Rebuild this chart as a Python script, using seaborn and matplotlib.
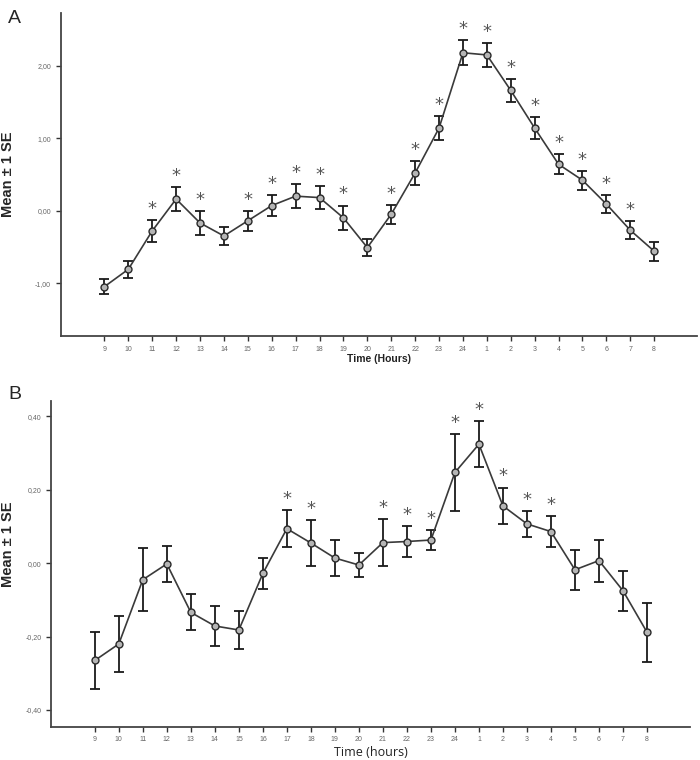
import numpy as np
import pandas as pd
import seaborn as sns
import matplotlib
matplotlib.use("Agg")
import matplotlib.pyplot as plt

# hours of the day, 9 am through 8 am next day
hours = [9, 10, 11, 12, 13, 14, 15, 16, 17, 18, 19, 20, 21, 22, 23, 24,
         1, 2, 3, 4, 5, 6, 7, 8]

# panel A: mean and standard error
mean_a = [-1.05, -0.81, -0.28, 0.16, -0.17, -0.35, -0.14, 0.07, 0.20, 0.18,
          -0.10, -0.51, -0.05, 0.52, 1.14, 2.18, 2.15, 1.66, 1.14, 0.64,
          0.42, 0.09, -0.27, -0.56]
se_a = [0.10, 0.12, 0.15, 0.16, 0.17, 0.12, 0.14, 0.14, 0.17, 0.16,
        0.17, 0.12, 0.13, 0.17, 0.17, 0.17, 0.17, 0.16, 0.15, 0.14,
        0.13, 0.12, 0.12, 0.13]
sig_a = [0, 0, 1, 1, 1, 0, 1, 1, 1, 1, 1, 0, 1, 1, 1, 1, 1, 1, 1, 1, 1, 1, 1, 0]

# panel B: mean and standard error
mean_b = [-0.265, -0.220, -0.045, -0.002, -0.134, -0.171, -0.182, -0.028,
          0.094, 0.055, 0.014, -0.005, 0.056, 0.059, 0.063, 0.247, 0.324,
          0.156, 0.107, 0.086, -0.018, 0.007, -0.075, -0.188]
se_b = [0.078, 0.076, 0.086, 0.048, 0.049, 0.054, 0.052, 0.041, 0.051,
        0.062, 0.050, 0.033, 0.064, 0.042, 0.026, 0.105, 0.062, 0.050,
        0.036, 0.042, 0.055, 0.057, 0.054, 0.080]
sig_b = [0, 0, 0, 0, 0, 0, 0, 0, 1, 1, 0, 0, 1, 1, 1, 1, 1, 1, 1, 1, 0, 0, 0, 0]

sns.set_style("ticks")
plt.rcParams["font.family"] = ["Liberation Sans", "DejaVu Sans"]

fig = plt.figure(figsize=(7, 7.6), dpi=100)
ax_a = fig.add_axes([0.087, 0.558, 0.909, 0.425])
ax_b = fig.add_axes([0.073, 0.044, 0.913, 0.429])


def draw_panel(ax, mean, se, sig, ylim, yticks, ytick_fmt):
    df = pd.DataFrame({"pos": np.arange(len(hours)), "mean": mean, "se": se})
    ax.errorbar(df["pos"], df["mean"], yerr=df["se"], fmt="none",
                ecolor="#1a1a1a", elinewidth=1.3, capsize=3.5, capthick=1.3,
                zorder=2)
    sns.lineplot(data=df, x="pos", y="mean", ax=ax, color="#3a3a3a",
                 linewidth=1.2, marker="o", markersize=5,
                 markerfacecolor="#b5b5b5", markeredgecolor="#2a2a2a",
                 markeredgewidth=1.0, zorder=3)
    for i, flag in enumerate(sig):
        if flag:
            ax.annotate("*", xy=(i, mean[i] + se[i]), xytext=(0, 1.5),
                        textcoords="offset points", ha="center", va="bottom",
                        fontsize=13, color="#555555",
                        family="DejaVu Sans")
    ax.set_xlim(-1.82, 24.8)
    ax.set_ylim(*ylim)
    ax.set_xticks(range(len(hours)))
    ax.set_xticklabels([str(h) for h in hours])
    ax.set_yticks(yticks)
    ax.set_yticklabels([ytick_fmt.format(t).replace(".", ",") for t in yticks])
    ax.tick_params(axis="both", labelsize=5, colors="#333333",
                   labelcolor="#666666", length=3.5, width=1.0, direction="out")
    for side in ["top", "right"]:
        ax.spines[side].set_visible(False)
    for side in ["left", "bottom"]:
        ax.spines[side].set_color("#444444")
        ax.spines[side].set_linewidth(1.3)
    ax.set_xlabel("")
    ax.set_ylabel("Mean ± 1 SE", fontsize=10.5, fontweight="bold")


draw_panel(ax_a, mean_a, se_a, sig_a, (-1.73, 2.73),
           [-1.0, 0.0, 1.0, 2.0], "{:.2f}")
draw_panel(ax_b, mean_b, se_b, sig_b, (-0.445, 0.443),
           [-0.4, -0.2, 0.0, 0.2, 0.4], "{:.2f}")

ax_a.yaxis.set_label_coords(-0.072, 0.5)
ax_b.yaxis.set_label_coords(-0.056, 0.56)

ax_a.set_xlabel("Time (Hours)", fontsize=7.5, fontweight="bold", color="#222222")
ax_a.xaxis.set_label_coords(0.5, -0.055)
ax_b.set_xlabel("Time (hours)", fontsize=9, family="Open Sans", color="#222222")
ax_b.xaxis.set_label_coords(0.5, -0.06)

fig.text(0.021, 0.976, "A", fontsize=14, va="center", ha="center")
fig.text(0.021, 0.481, "B", fontsize=14, va="center", ha="center")

fig.savefig("out.png", dpi=100)
